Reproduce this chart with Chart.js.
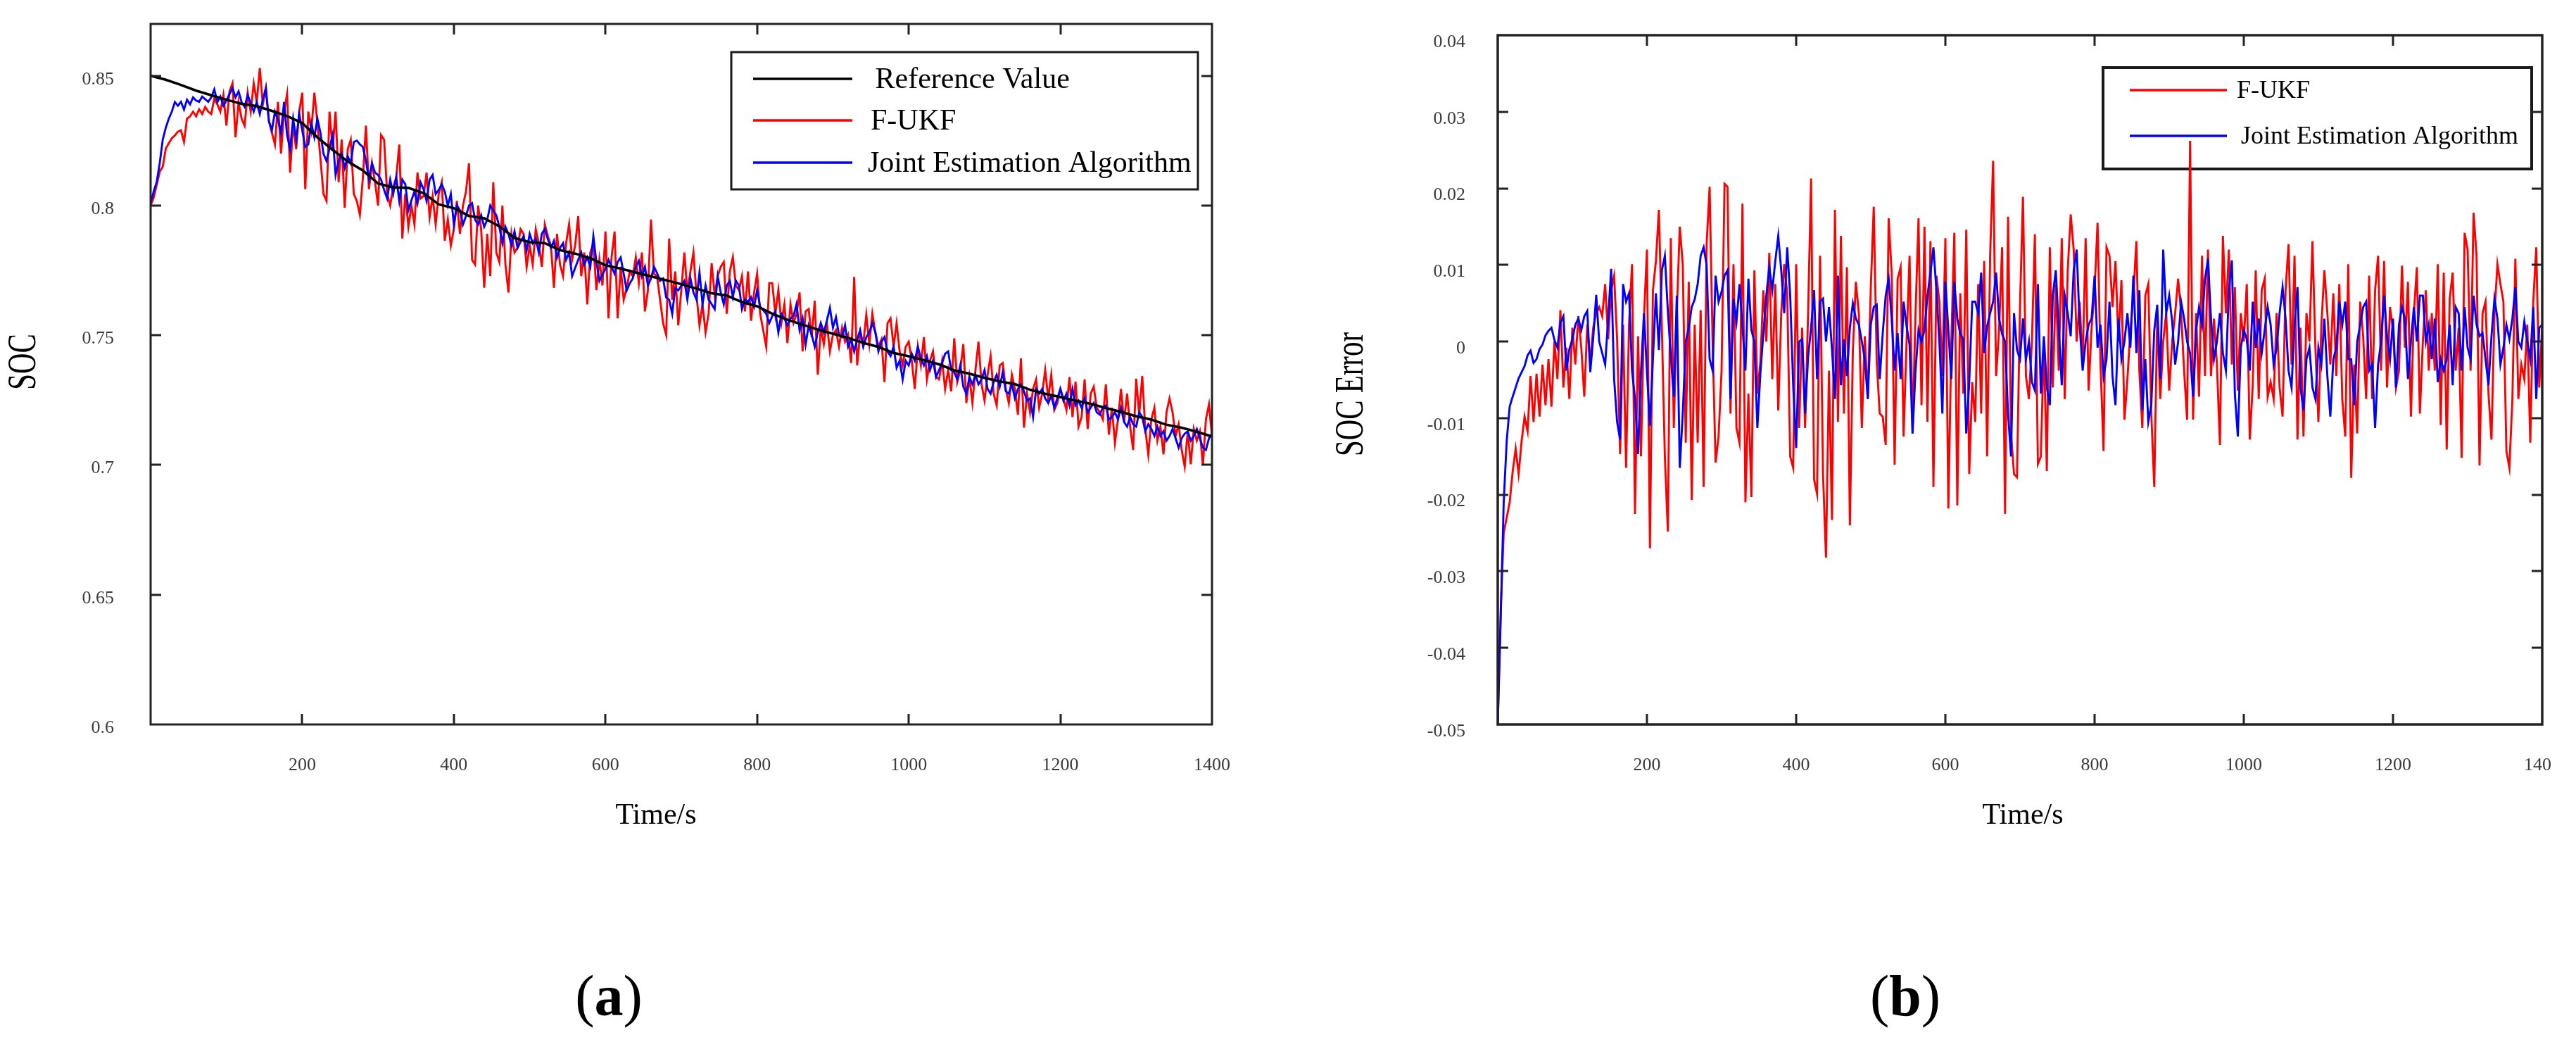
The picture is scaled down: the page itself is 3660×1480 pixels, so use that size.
<!DOCTYPE html>
<html>
<head>
<meta charset="utf-8">
<title>SOC estimation comparison</title>
<script src="https://cdn.jsdelivr.net/npm/chart.js@4.4.1"></script>
<style>
  html, body { margin: 0; padding: 0; background: #fff; }
  #page { position: relative; width: 3660px; height: 1480px; overflow: hidden; background: #fff; }
  #socChart { position: absolute; left: 0; top: 0; }
  #errChart { position: absolute; left: 1830px; top: 0; }
</style>
</head>
<body>
<div id="page">
  <canvas id="socChart" width="1830" height="1480"></canvas>
  <canvas id="errChart" width="1796" height="1480"></canvas>
</div>
<script>
// axis ticks
const timeTicks = [0, 200, 400, 600, 800, 1000, 1200, 1400];
const socTicks = [0.6, 0.65, 0.7, 0.75, 0.8, 0.85];
const errTicks = [-0.05, -0.04, -0.03, -0.02, -0.01, 0, 0.01, 0.02, 0.03, 0.04];

// reference SOC, one value every 20 s
const refTimes = [0, 20, 40, 60, 80, 100, 120, 140, 160, 180, 200, 220, 240, 260, 280, 300, 320, 340, 360, 380,
  400, 420, 440, 460, 480, 500, 520, 540, 560, 580, 600, 620, 640, 660, 680, 700, 720, 740, 760, 780,
  800, 820, 840, 860, 880, 900, 920, 940, 960, 980, 1000, 1020, 1040, 1060, 1080, 1100, 1120, 1140, 1160, 1180,
  1200, 1220, 1240, 1260, 1280, 1300, 1320, 1340, 1360, 1380, 1400];
const refSoc = [0.850, 0.8485, 0.8465, 0.8443, 0.8425, 0.8408, 0.8392, 0.8383, 0.8365, 0.8345,
  0.8318, 0.8263, 0.8215, 0.8170, 0.8135, 0.8085, 0.8070, 0.8068, 0.8048, 0.8005,
  0.7990, 0.7960, 0.7951, 0.7920, 0.7875, 0.7859, 0.7855, 0.7828, 0.7815, 0.7797,
  0.7770, 0.7757, 0.7742, 0.7727, 0.7712, 0.7697, 0.7680, 0.7662, 0.7653, 0.7628,
  0.7612, 0.7583, 0.7560, 0.7541, 0.7522, 0.7506, 0.7490, 0.7471, 0.7455, 0.7432,
  0.7419, 0.7404, 0.7388, 0.7365, 0.7352, 0.7336, 0.7322, 0.7312, 0.7290, 0.7275,
  0.7262, 0.7248, 0.7236, 0.7220, 0.7205, 0.7188, 0.7175, 0.7155, 0.7144, 0.7128,
  0.7110];

// estimated series, one value every STEP seconds (0..1400 s)
const STEP = 4;

const fukfSoc = [
  0.800, 0.803, 0.808, 0.813, 0.815, 0.822, 0.824, 0.826, 0.827, 0.8285, 0.829, 0.8245, 0.8335, 0.8344, 0.8362, 0.8344, 0.8371, 0.8353, 0.838, 0.8362, 0.8353, 0.8412, 0.839, 0.8362, 0.8426,
  0.8308, 0.8439, 0.8471, 0.8263, 0.8399, 0.8335, 0.8308, 0.8435, 0.8362, 0.8471, 0.8399, 0.853, 0.839, 0.8453, 0.8326, 0.828, 0.8235, 0.8399, 0.820, 0.8362, 0.843, 0.8127, 0.8317, 0.8217, 0.8362,
  0.8435, 0.8063, 0.8362, 0.829, 0.8435, 0.8317, 0.8181, 0.8045, 0.8018, 0.8362, 0.8217, 0.8362, 0.809, 0.8254, 0.7991, 0.8217, 0.8254, 0.8045, 0.8018, 0.7964, 0.8109, 0.8308, 0.8063, 0.8163, 0.809,
  0.800, 0.8272, 0.8254, 0.8045, 0.800, 0.8072, 0.8109, 0.8235, 0.7873, 0.8045, 0.7918, 0.800, 0.7927, 0.8127, 0.8027, 0.8036, 0.8127, 0.7955, 0.8036, 0.7927, 0.8045, 0.809, 0.7864, 0.7946, 0.7846,
  0.7909, 0.8018, 0.7891, 0.800, 0.8054, 0.8163, 0.7791, 0.7773, 0.800, 0.7909, 0.7683, 0.7891, 0.7728, 0.809, 0.7819, 0.7782, 0.800, 0.7773, 0.7665, 0.7891, 0.7819, 0.7837, 0.7909, 0.7891, 0.7764,
  0.7846, 0.7773, 0.7909, 0.7855, 0.7764, 0.7927, 0.7882, 0.7846, 0.7683, 0.7891, 0.7773, 0.7728, 0.7855, 0.7928, 0.7792, 0.7846, 0.7959, 0.7728, 0.7819, 0.7619, 0.7819, 0.7855, 0.7674, 0.7792, 0.7692,
  0.790, 0.7565, 0.7801, 0.790, 0.7565, 0.7764, 0.7637, 0.7683, 0.7746, 0.7728, 0.7801, 0.7701, 0.7819, 0.7592, 0.7674, 0.7946, 0.7737, 0.7728, 0.7637, 0.7547, 0.7502, 0.7873, 0.7637, 0.7746, 0.7538,
  0.7674, 0.7819, 0.7665, 0.7746, 0.7819, 0.7656, 0.7538, 0.762, 0.7511, 0.7583, 0.7778, 0.7656, 0.7728, 0.7764, 0.7782, 0.7583, 0.7746, 0.7801, 0.7692, 0.7674, 0.7728, 0.7592, 0.7746, 0.7556, 0.7665,
  0.7737, 0.7583, 0.752, 0.7456, 0.7701, 0.7701, 0.7583, 0.7674, 0.7547, 0.762, 0.747, 0.762, 0.7547, 0.7583, 0.7665, 0.7438, 0.7592, 0.7601, 0.7493, 0.7633, 0.7348, 0.7529, 0.7466, 0.7547, 0.7438,
  0.7502, 0.752, 0.7456, 0.7529, 0.7475, 0.7502, 0.7393, 0.7725, 0.7384, 0.7511, 0.7466, 0.7579, 0.7466, 0.7583, 0.7511, 0.7456, 0.7484, 0.732, 0.7547, 0.7565, 0.7456, 0.7547, 0.7438, 0.7384, 0.7456,
  0.7475, 0.7402, 0.7293, 0.7456, 0.7384, 0.7493, 0.733, 0.7402, 0.7438, 0.7339, 0.733, 0.7402, 0.7293, 0.7366, 0.7284, 0.7488, 0.732, 0.7366, 0.7466, 0.7239, 0.7339, 0.7239, 0.7366, 0.7475, 0.7311,
  0.7248, 0.7348, 0.742, 0.7275, 0.723, 0.7384, 0.7393, 0.7293, 0.7239, 0.7348, 0.7293, 0.7194, 0.7411, 0.7144, 0.7275, 0.7203, 0.7293, 0.733, 0.7221, 0.7275, 0.7366, 0.7257, 0.7348, 0.7212, 0.7239,
  0.7293, 0.7257, 0.7212, 0.7339, 0.7185, 0.7321, 0.7148, 0.7185, 0.733, 0.7139, 0.7275, 0.7302, 0.7221, 0.7203, 0.7176, 0.7311, 0.7117, 0.7221, 0.7085, 0.7176, 0.7293, 0.7166, 0.7275, 0.7148, 0.7058,
  0.7333, 0.7194, 0.7343, 0.7139, 0.704, 0.7176, 0.7221, 0.7094, 0.7148, 0.7041, 0.7203, 0.7257, 0.7203, 0.7112, 0.7157, 0.7058, 0.6994, 0.713, 0.7003, 0.7139, 0.7094, 0.713, 0.6999, 0.7176, 0.7234,
  0.7112];

const jointSoc = [
  0.801, 0.8054, 0.809, 0.8163, 0.8254, 0.830, 0.8335, 0.8362, 0.8399, 0.8385, 0.840, 0.837, 0.8408, 0.839, 0.8417, 0.8405, 0.840, 0.842, 0.841, 0.840, 0.8417, 0.8448, 0.8399, 0.842, 0.8385,
  0.8405, 0.843, 0.8453, 0.8417, 0.844, 0.8399, 0.838, 0.8426, 0.8395, 0.8362, 0.8399, 0.8353, 0.8408, 0.8453, 0.8326, 0.829, 0.8362, 0.833, 0.8281, 0.8399, 0.8272, 0.8217, 0.8335, 0.8254, 0.8353,
  0.829, 0.8226, 0.8236, 0.8317, 0.8263, 0.8335, 0.8281, 0.820, 0.8172, 0.822, 0.8272, 0.8118, 0.8172, 0.820, 0.8145, 0.819, 0.8163, 0.8245, 0.825, 0.8236, 0.8226, 0.8172, 0.810, 0.8163, 0.8127,
  0.8118, 0.810, 0.806, 0.8027, 0.810, 0.8045, 0.8109, 0.8018, 0.810, 0.8082, 0.7982, 0.802, 0.8054, 0.8009, 0.809, 0.8063, 0.8018, 0.810, 0.8118, 0.8045, 0.806, 0.8082, 0.8054, 0.800, 0.8045,
  0.7927, 0.800, 0.7982, 0.7927, 0.796, 0.800, 0.8009, 0.7945, 0.7927, 0.7963, 0.7918, 0.7945, 0.800, 0.798, 0.7963, 0.7918, 0.7855, 0.7918, 0.7891, 0.7846, 0.790, 0.7837, 0.786, 0.7882, 0.7828,
  0.7891, 0.7855, 0.7873, 0.7819, 0.7891, 0.791, 0.787, 0.7837, 0.7864, 0.780, 0.7837, 0.7855, 0.7791, 0.7819, 0.7728, 0.776, 0.7791, 0.7819, 0.7773, 0.780, 0.7764, 0.7882, 0.7782, 0.771, 0.7735,
  0.7755, 0.7791, 0.7764, 0.7737, 0.7782, 0.780, 0.7737, 0.7673, 0.770, 0.7719, 0.7764, 0.7787, 0.7728, 0.7764, 0.7692, 0.7719, 0.7764, 0.774, 0.771, 0.7719, 0.7646, 0.7637, 0.7583, 0.7682, 0.7673,
  0.7692, 0.771, 0.7638, 0.7719, 0.7665, 0.7638, 0.7742, 0.762, 0.7692, 0.7638, 0.762, 0.7601, 0.7728, 0.7665, 0.762, 0.7692, 0.771, 0.7647, 0.771, 0.7692, 0.7601, 0.7638, 0.7629, 0.7647, 0.761,
  0.7674, 0.761, 0.7597, 0.7583, 0.7547, 0.7574, 0.7592, 0.7511, 0.7583, 0.7565, 0.7538, 0.7565, 0.7574, 0.762, 0.752, 0.7565, 0.7465, 0.7538, 0.7502, 0.7456, 0.7511, 0.7547, 0.7511, 0.7556, 0.7606,
  0.7529, 0.757, 0.7502, 0.7493, 0.7538, 0.7456, 0.7484, 0.7438, 0.7484, 0.752, 0.7456, 0.7493, 0.7511, 0.7547, 0.7511, 0.7438, 0.7475, 0.7493, 0.7438, 0.742, 0.7456, 0.7375, 0.7402, 0.733, 0.7402,
  0.7384, 0.7429, 0.7402, 0.7456, 0.7411, 0.7384, 0.742, 0.7366, 0.7402, 0.7339, 0.7366, 0.7393, 0.7429, 0.7438, 0.7366, 0.7357, 0.733, 0.7384, 0.7302, 0.7275, 0.7339, 0.7311, 0.7348, 0.7311, 0.733,
  0.7366, 0.7293, 0.7275, 0.732, 0.7348, 0.7302, 0.7357, 0.7284, 0.7275, 0.7311, 0.7257, 0.7293, 0.7311, 0.7284, 0.7248, 0.7257, 0.7185, 0.7293, 0.7275, 0.7293, 0.7257, 0.7239, 0.7266, 0.7221, 0.7257,
  0.7293, 0.7248, 0.7275, 0.723, 0.7293, 0.723, 0.7248, 0.7221, 0.7257, 0.7203, 0.7221, 0.7239, 0.7203, 0.7194, 0.7221, 0.723, 0.7176, 0.7185, 0.7203, 0.7176, 0.7221, 0.7166, 0.7148, 0.7185, 0.7157,
  0.7148, 0.7203, 0.7185, 0.713, 0.7157, 0.7139, 0.7112, 0.7148, 0.7112, 0.713, 0.7094, 0.7112, 0.7139, 0.7103, 0.7067, 0.7103, 0.7121, 0.713, 0.7094, 0.7112, 0.7139, 0.7103, 0.7067, 0.7058, 0.7103,
  0.7121];

const fukfErr = [
  -0.050, -0.035, -0.025, -0.023, -0.021, -0.017, -0.014, -0.0173, -0.013, -0.0098, -0.0117, -0.0045, -0.0105, -0.0042, -0.0098, -0.003, -0.0083, -0.0023, -0.0085, 0, -0.0049, 0.0041, -0.006, -0.0008, -0.0075,
  0.0018, -0.003, 0.0033, -0.0008, -0.0072, 0.0022, -0.0027, 0.0018, 0.0037, 0.0045, 0.0033, 0.0075, 0.0003, 0.0067, 0.0086, 0.0003, -0.0147, 0.0022, -0.0165, 0.0022, 0.0101, -0.0225, 0.0007, -0.015, 0.003,
  0.012, -0.027, 0.0067, 0.0105, 0.0172, 0.0018, -0.015, -0.0248, 0.0135, -0.0113, 0.0037, 0.015, 0.0101, -0.0132, 0.0078, -0.0207, 0.0022, -0.0132, 0.0041, -0.019, 0.0127, 0.0202, 0, -0.0158, -0.0124,
  -0.0038, 0.0206, 0.0202, -0.0094, 0.0101, -0.0113, -0.0132, 0.018, -0.021, -0.0068, -0.0203, 0.0093, -0.0068, -0.0027, 0.0067, 0, 0.0116, -0.0049, 0.0075, -0.009, 0.0037, 0.0101, 0.0063, -0.015, -0.0165,
  0.0101, -0.0113, 0.0018, -0.0113, 0.0037, 0.0213, -0.018, -0.0199, 0.0112, -0.0173, -0.0282, -0.0038, -0.0233, 0.0172, -0.0105, 0.0138, -0.0094, 0.0097, -0.024, -0.0012, 0.0078, 0.0037, -0.0113, 0.0007, -0.0075,
  0.0069, 0.0176, -0.0027, -0.0094, -0.0098, -0.0135, 0.0161, 0.009, -0.0161, 0.0082, 0.0097, -0.0124, 0, 0.0112, -0.012, 0.0037, 0.0161, -0.0083, 0.015, -0.0105, 0.0131, -0.019, 0.0086, 0.0052, -0.0045,
  0.0135, -0.0218, 0, 0.0142, -0.0214, 0.0063, -0.0068, 0.0146, -0.0173, -0.0053, -0.0105, 0.0075, -0.0094, 0.0105, -0.015, 0.0112, 0.0236, -0.0045, 0.0015, 0.0123, -0.0225, 0.0163, -0.012, -0.0173, -0.0177,
  0.0045, 0.0189, -0.0045, -0.0075, 0, 0.014, -0.016, -0.015, 0, -0.0169, 0.0123, -0.006, 0.0075, -0.0038, 0.0135, -0.0075, 0.0093, 0.0166, 0.012, 0, 0.0052, -0.003, 0.0135, -0.0064, 0.0018,
  0.0067, 0.0155, -0.003, -0.0143, 0.0123, 0.0112, 0.0045, 0.0105, 0, 0.008, -0.0102, -0.0049, 0.0015, 0.006, 0.0131, -0.0038, -0.0113, 0.006, 0.0075, -0.0094, -0.019, 0.0037, -0.0075, 0, 0.0037,
  -0.0064, 0, 0.0037, 0.0082, 0.0037, -0.0038, -0.0102, 0.0262, -0.0102, 0.0037, -0.0072, 0.0112, -0.0045, 0.012, -0.0045, 0.003, -0.003, -0.0135, 0.0138, 0.0037, 0.012, -0.003, 0.0071, -0.0064, 0.0037,
  0, 0.0075, -0.0128, -0.0057, 0.0093, -0.0075, 0.0067, 0.0082, -0.0072, -0.0053, -0.0075, 0.0037, -0.006, -0.0098, 0.0067, 0.0127, -0.003, 0.0112, -0.0128, 0.0018, -0.0124, 0.0037, 0, 0.0131, -0.0008,
  -0.0105, 0.0022, 0.0093, 0.0037, -0.003, 0.0063, -0.0045, 0.0075, -0.0075, -0.0124, 0.0101, -0.0178, -0.003, -0.012, 0.0052, 0.0007, -0.0075, 0.0086, -0.0075, 0.0067, 0.0112, -0.0038, 0.0105, -0.006, 0.0045,
  0.0015, -0.006, -0.0038, 0.0099, -0.0008, 0.0078, -0.0098, 0.0037, 0.0097, -0.0094, 0, 0.0067, -0.0038, 0.0037, -0.0038, 0.0101, -0.0109, 0.009, -0.0141, 0.0056, 0.009, -0.0038, 0.0018, -0.0152, 0.0142,
  0.012, -0.0038, 0.0168, 0.0112, -0.0162, 0.0037, 0.0052, -0.0068, -0.0128, 0.0037, 0.0101, 0.0075, 0.0052, -0.0143, -0.0165, -0.0075, 0.0108, -0.0075, -0.003, -0.0049, 0.0022, -0.0132, 0.0052, 0.0123, -0.006,
  0.0022];

const jointErr = [
  -0.050, -0.036, -0.021, -0.013, -0.0085, -0.0072, -0.006, -0.0048, -0.004, -0.0032, -0.0018, -0.0012, -0.0028, -0.0023, -0.001, -0.0004, 0.0008, 0.0014, 0.0018, 0.0002, -0.0008, 0.0025, 0.0033, -0.0038, -0.001,
  0.0003, 0.0022, 0.003, 0.0015, 0.0033, 0.004, -0.004, 0.0005, 0.0061, 0, -0.0015, -0.003, 0.003, 0.0095, -0.0049, -0.0105, -0.0128, 0.0075, 0.0052, 0.0063, -0.0038, -0.0075, -0.0147, -0.004, 0.0037,
  -0.004, -0.011, -0.0023, 0.0063, -0.0011, 0.0093, 0.0112, 0.004, -0.0019, -0.0072, 0.006, -0.0165, -0.0094, 0, 0.0018, 0.0045, 0.0055, 0.0075, 0.0112, 0.0123, 0.01, -0.0023, -0.0038, 0.0086, 0.0052,
  0.0065, 0.0086, 0.0093, -0.0075, 0.0056, 0.0026, 0.0075, 0.002, -0.0038, 0.0082, 0.0015, 0, -0.0113, -0.0042, 0.001, 0.006, 0.0097, 0.0067, 0.0105, 0.0138, 0.0093, 0.0037, 0.0123, 0.006, -0.0057,
  -0.0139, 0, 0.0003, -0.0094, -0.002, 0.0018, 0.0067, -0.0049, 0.0052, 0.0056, 0, 0.0045, -0.001, -0.0075, 0.0086, -0.0057, 0.0003, -0.0045, 0.0018, 0.005, 0.003, 0.0022, 0, -0.0023, -0.0075,
  0.0022, 0.0045, 0.0048, -0.0049, 0.001, 0.006, 0.0082, 0.003, -0.0038, 0.0011, -0.0049, 0.0052, 0.002, -0.0004, -0.012, -0.0038, 0.0015, 0, 0.0015, 0.006, 0.009, 0.0123, 0.0067, 0, -0.0094,
  0.0078, 0.0015, -0.0049, 0.0078, 0.003, 0.001, 0.0003, -0.012, -0.0053, 0.0052, 0.0052, 0.0037, 0.009, -0.0015, 0.002, 0.0037, 0.0052, 0.009, 0.003, 0.001, 0, -0.0094, -0.015, 0.0037, -0.0011,
  -0.0023, 0.003, -0.0023, 0, -0.0053, -0.0064, 0.0075, -0.0068, 0.0007, -0.006, -0.0083, 0.006, 0.0093, 0.0018, -0.0057, 0.006, 0.0037, 0.0007, 0.0093, 0.012, 0.0022, -0.0038, 0, 0.0022, 0.003,
  0.0086, -0.0008, 0.0022, -0.0045, -0.0023, 0.0052, -0.0045, -0.0083, 0.003, -0.0023, 0, 0.0037, -0.0008, 0.0086, -0.0015, 0.0067, -0.009, -0.0023, -0.0105, -0.0083, 0.0015, 0.0048, -0.0049, 0.012, 0.0037,
  0.006, 0.0026, -0.003, 0, 0.0052, 0.003, 0, -0.0015, -0.0072, 0.0015, 0.0045, 0.0022, 0.0082, 0.0108, 0.003, -0.0023, 0, 0.0037, -0.0015, -0.0038, 0.0067, 0.0106, -0.0068, -0.0124, -0.0008,
  0.0015, 0.0003, -0.0038, 0.0052, -0.0008, 0.003, -0.0015, 0.0015, 0.0045, 0.0022, -0.003, -0.0008, 0.0037, 0.0071, 0.003, -0.0038, -0.006, 0.0022, 0.0071, -0.006, -0.009, -0.0023, -0.0008, -0.006, -0.0075,
  -0.0008, -0.003, 0.003, -0.0045, -0.0098, -0.0023, -0.0008, 0.0052, 0.0022, 0.0052, -0.0023, -0.0023, -0.0083, 0, 0.0022, 0.0045, 0.0052, -0.0038, -0.003, -0.0113, -0.003, 0, 0.006, 0.0007, -0.0023,
  0.003, -0.006, 0.0022, 0.0045, 0.003, -0.0049, 0, 0.0045, 0, 0.006, 0.006, 0, 0.0022, -0.0023, 0.003, -0.0053, -0.0023, -0.0038, -0.0023, 0.0022, -0.0057, 0.0045, 0.0037, -0.0038, 0.0045,
  -0.0008, -0.0023, 0.006, 0.0022, 0.0007, 0.0011, -0.0023, -0.0057, 0.0007, 0.0056, 0.003, -0.003, -0.0008, 0.0022, 0.0003, 0.003, 0.0071, 0, -0.0008, 0.0026, 0, -0.0023, 0.0045, -0.0075, 0.0018,
  0.0022];

const RED = '#ff0000';
const BLUE = '#0000ff';
const BLACK = '#000000';
const SERIF = '"Liberation Serif", "Times New Roman", serif';

function toPoints(values, times) {
  return values.map((v, i) => ({ x: times ? times[i] : i * STEP, y: v }));
}

// box + inward tick marks on all four sides
const framePlugin = {
  id: 'frame',
  afterDraw(chart, args, opts) {
    const { ctx, chartArea: a } = chart;
    const xs = chart.scales.x, ys = chart.scales.y;
    ctx.save();
    ctx.strokeStyle = opts.color;
    ctx.lineWidth = opts.tickWidth;
    ctx.beginPath();
    xs.ticks.forEach(t => {
      if (t.value <= xs.min || t.value >= xs.max) return;
      const px = Math.round(xs.getPixelForValue(t.value));
      ctx.moveTo(px, a.bottom); ctx.lineTo(px, a.bottom - opts.tickLen);
      ctx.moveTo(px, a.top); ctx.lineTo(px, a.top + opts.tickLen);
    });
    ys.ticks.forEach(t => {
      if (t.value <= ys.min || t.value >= ys.max) return;
      const py = Math.round(ys.getPixelForValue(t.value));
      ctx.moveTo(a.left, py); ctx.lineTo(a.left + opts.tickLen, py);
      ctx.moveTo(a.right, py); ctx.lineTo(a.right - opts.tickLen, py);
    });
    ctx.stroke();
    ctx.lineWidth = opts.width;
    ctx.strokeRect(a.left, a.top, a.right - a.left, a.bottom - a.top);
    ctx.restore();
  }
};

// legend in a framed box inside the plot; drawn before the lines
const boxLegendPlugin = {
  id: 'boxLegend',
  beforeDatasetsDraw(chart, args, o) {
    const ctx = chart.ctx;
    ctx.save();
    ctx.fillStyle = '#fff';
    ctx.fillRect(o.left, o.top, o.width, o.height);
    ctx.strokeStyle = '#1a1a1a';
    ctx.lineWidth = o.borderWidth;
    ctx.strokeRect(o.left, o.top, o.width, o.height);
    ctx.font = o.fontSize + 'px ' + SERIF;
    ctx.textBaseline = 'middle';
    ctx.textAlign = 'left';
    chart.data.datasets.forEach((ds, i) => {
      const y = o.rows[i];
      ctx.strokeStyle = ds.borderColor;
      ctx.lineWidth = o.lineWidth;
      ctx.beginPath();
      ctx.moveTo(o.lineFrom, y);
      ctx.lineTo(o.lineTo, y);
      ctx.stroke();
      ctx.fillStyle = '#000';
      ctx.fillText(ds.label, o.textX[i], y + 2);
    });
    ctx.restore();
  }
};

// axis titles and panel letters
const captionPlugin = {
  id: 'captions',
  afterDraw(chart, args, opts) {
    const ctx = chart.ctx;
    opts.items.forEach(it => {
      ctx.save();
      ctx.translate(it.x, it.y);
      if (it.rotate) ctx.rotate(it.rotate);
      if (it.squeeze) ctx.scale(it.squeeze, 1);
      ctx.fillStyle = '#000';
      ctx.textBaseline = it.baseline || 'alphabetic';
      ctx.textAlign = 'left';
      const fonts = it.parts.map(p => (p.bold ? 'bold ' : '') + it.size + 'px ' + SERIF);
      let total = 0;
      it.parts.forEach((p, i) => { ctx.font = fonts[i]; total += ctx.measureText(p.text).width; });
      let cx = -total / 2;
      it.parts.forEach((p, i) => {
        ctx.font = fonts[i];
        ctx.fillText(p.text, cx, 0);
        cx += ctx.measureText(p.text).width;
      });
      ctx.restore();
    });
  }
};

const tickFont = { family: SERIF, size: 26 };
const tickColor = '#3a3a3a';

function timeScale() {
  return {
    type: 'linear', min: 0, max: 1400,
    afterBuildTicks: s => { s.ticks = timeTicks.map(v => ({ value: v })); },
    ticks: {
      autoSkip: false, maxRotation: 0, padding: 35,
      font: tickFont, color: tickColor,
      callback: v => (v === 0 ? '' : String(v))
    },
    grid: { display: false },
    border: { display: false },
    afterFit: s => { s.height = 451; s.paddingLeft = 0; s.paddingRight = 0; }
  };
}

function valueScale(min, max, tickList, width, pad, offset) {
  return {
    type: 'linear', min, max,
    afterBuildTicks: s => { s.ticks = tickList.map(v => ({ value: v })); },
    ticks: {
      autoSkip: false, padding: pad, labelOffset: offset,
      font: tickFont, color: tickColor,
      callback: v => String(v)
    },
    grid: { display: false },
    border: { display: false },
    afterFit: s => { s.width = width; s.paddingTop = 0; s.paddingBottom = 0; }
  };
}

function lineSet(label, data, color, width, order) {
  return {
    label, data, borderColor: color, backgroundColor: color,
    borderWidth: width, pointRadius: 0, tension: 0, fill: false, order
  };
}

const baseOptions = {
  responsive: false,
  devicePixelRatio: 1,
  animation: false,
  events: [],
  parsing: { xAxisKey: 'x', yAxisKey: 'y' }
};

new Chart(document.getElementById('socChart'), {
  type: 'line',
  data: {
    datasets: [
      lineSet(' Reference Value', toPoints(refSoc, refTimes), BLACK, 3.6, 0),
      lineSet('F-UKF', toPoints(fukfSoc), RED, 2.9, 2),
      lineSet('Joint Estimation Algorithm', toPoints(jointSoc), BLUE, 2.9, 1)
    ]
  },
  options: {
    ...baseOptions,
    layout: { padding: { left: 0, top: 34, right: 108, bottom: 0 } },
    scales: {
      x: timeScale(),
      y: valueScale(0.6, 0.87, socTicks, 214, 44, 5)
    },
    plugins: {
      legend: { display: false },
      tooltip: { enabled: false },
      frame: { color: '#222', width: 3, tickWidth: 3, tickLen: 15 },
      boxLegend: {
        left: 1039, top: 74, width: 663, height: 195, borderWidth: 3,
        rows: [112, 171, 231], lineFrom: 1070, lineTo: 1211, lineWidth: 3.5,
        textX: [1233, 1237, 1233], fontSize: 42
      },
      captions: {
        items: [
          { parts: [{ text: 'SOC' }], x: 35, y: 514, size: 56, rotate: -Math.PI / 2, squeeze: 0.73, baseline: 'middle' },
          { parts: [{ text: 'Time/s' }], x: 932, y: 1170, size: 42 },
          { parts: [{ text: '(' }, { text: 'a', bold: true }, { text: ')' }], x: 865, y: 1442, size: 82 }
        ]
      }
    }
  },
  plugins: [boxLegendPlugin, framePlugin, captionPlugin]
});

new Chart(document.getElementById('errChart'), {
  type: 'line',
  data: {
    datasets: [
      lineSet('F-UKF', toPoints(fukfErr), RED, 2.9, 2),
      lineSet('Joint Estimation Algorithm', toPoints(jointErr), BLUE, 2.9, 1)
    ]
  },
  options: {
    ...baseOptions,
    layout: { padding: { left: 0, top: 50, right: 14, bottom: 0 } },
    scales: {
      x: timeScale(),
      y: valueScale(-0.05, 0.04, errTicks, 298, 38, 10)
    },
    plugins: {
      legend: { display: false },
      tooltip: { enabled: false },
      frame: { color: '#222', width: 3.5, tickWidth: 3, tickLen: 15 },
      boxLegend: {
        left: 1158, top: 96, width: 609, height: 144, borderWidth: 4,
        rows: [128, 193], lineFrom: 1196, lineTo: 1334, lineWidth: 3.5,
        textX: [1348, 1354], fontSize: 36
      },
      captions: {
        items: [
          { parts: [{ text: 'SOC Error' }], x: 91, y: 560, size: 56, rotate: -Math.PI / 2, squeeze: 0.73, baseline: 'middle' },
          { parts: [{ text: 'Time/s' }], x: 1044, y: 1170, size: 42 },
          { parts: [{ text: '(' }, { text: 'b', bold: true }, { text: ')' }], x: 877, y: 1442, size: 82 }
        ]
      }
    }
  },
  plugins: [boxLegendPlugin, framePlugin, captionPlugin]
});
</script>
</body>
</html>
